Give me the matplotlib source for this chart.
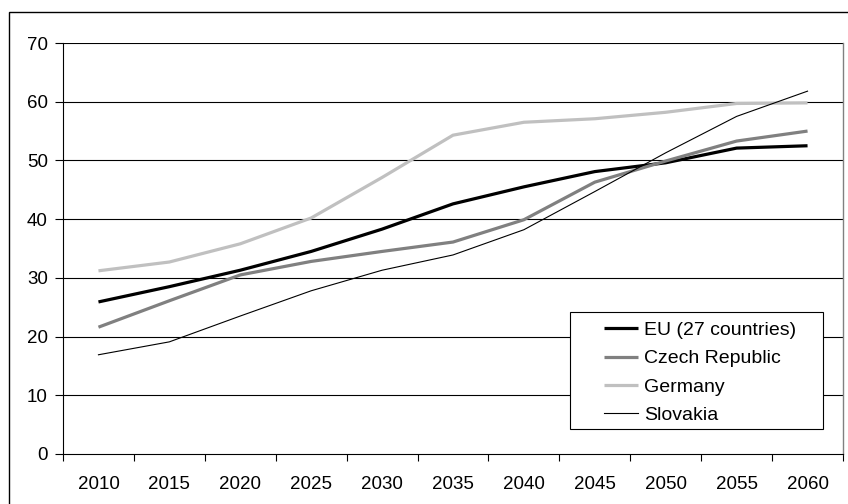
import matplotlib.pyplot as plt
import matplotlib.patches as mpatches
import numpy as np

plt.rcParams['font.family'] = ['Liberation Sans', 'DejaVu Sans']

years = ['2010', '2015', '2020', '2025', '2030', '2035', '2040', '2045', '2050', '2055', '2060']

eu = [25.9, 28.5, 31.3, 34.5, 38.3, 42.6, 45.5, 48.1, 49.6, 52.1, 52.5]
czech = [21.6, 26.1, 30.5, 32.8, 34.5, 36.1, 39.9, 46.3, 49.9, 53.3, 55.0]
germany = [31.2, 32.7, 35.8, 40.2, 47.1, 54.3, 56.5, 57.1, 58.2, 59.7, 59.8]
slovakia = [16.9, 19.1, 23.5, 27.8, 31.3, 33.9, 38.2, 44.7, 51.3, 57.5, 61.8]

W, H = 848, 504
fig = plt.figure(figsize=(W / 100, H / 100), dpi=100)
ax = fig.add_axes([63 / W, 1 - 454 / H, (843 - 63) / W, (454 - 43) / H])

# outer frame (right/bottom edges run off the image)
fig.patches.append(mpatches.Rectangle((9 / W, -0.02), 1.1, 1 - 12 / H + 0.02,
                                      transform=fig.transFigure, fill=False,
                                      edgecolor='black', linewidth=1.0))

x = np.arange(len(years))
ax.plot(x, eu, color='black', lw=2.3, label='EU (27 countries)', solid_capstyle='butt')
ax.plot(x, czech, color='#808080', lw=2.3, label='Czech Republic', solid_capstyle='butt')
ax.plot(x, germany, color='#c0c0c0', lw=2.3, label='Germany', solid_capstyle='butt')
ax.plot(x, slovakia, color='black', lw=0.8, label='Slovakia')

ax.set_xlim(-0.5, len(years) - 0.5)
ax.set_ylim(0, 70)
ax.set_yticks(range(0, 71, 10))
ax.set_xticks(x)
ax.set_xticklabels(years)
ax.set_xticks(np.arange(-0.5, len(years), 1), minor=True)
ax.tick_params(axis='x', which='major', length=0, pad=15.5, labelsize=13.5)
ax.tick_params(axis='x', which='minor', length=5, width=0.8, direction='out')
ax.tick_params(axis='y', length=6, width=0.8, direction='out', pad=5, labelsize=13.5)

for v in range(10, 71, 10):
    ax.axhline(v, color='black', lw=0.8, zorder=0.5)

ax.spines['top'].set_visible(False)
ax.spines['right'].set_color('#808080')
ax.spines['right'].set_linewidth(1.0)
ax.spines['left'].set_linewidth(0.8)
ax.spines['bottom'].set_linewidth(0.8)

# legend box drawn separately, entries placed inside it
to_ax = lambda px, py: ((px - 63) / (843 - 63), (454 - py) / (454 - 43))
bx0, by0 = to_ax(570, 429)
bx1, by1 = to_ax(823, 312)
ax.add_patch(mpatches.Rectangle((bx0, by0), bx1 - bx0, by1 - by0, transform=ax.transAxes,
                                facecolor='white', edgecolor='black', lw=0.8, zorder=5))
lx, ly = to_ax(604, 321.5)
leg = ax.legend(loc='upper left', bbox_to_anchor=(lx, ly), frameon=False, fontsize=14,
                handlelength=1.75, handletextpad=0.3, borderaxespad=0, borderpad=0,
                labelspacing=0.55)
leg.set_zorder(6)

fig.savefig('out.png', dpi=100)
